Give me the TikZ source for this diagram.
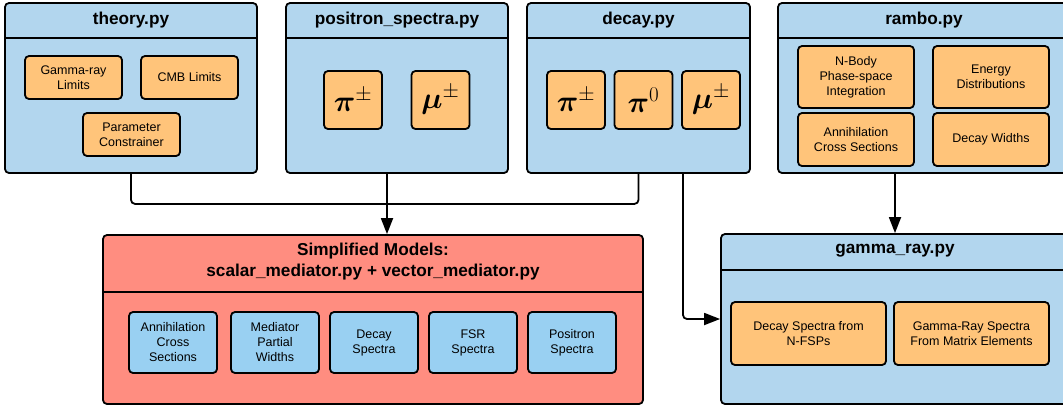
\RequirePackage{fix-cm}
\documentclass[tikz,border=0pt]{standalone}
\usepackage{amsmath}
\usepackage{fontspec}
\setmainfont{Liberation Sans}
\usetikzlibrary{arrows.meta}
\definecolor{outerblue}{RGB}{178,214,238}
\definecolor{innerorange}{RGB}{255,196,122}
\definecolor{modelred}{RGB}{255,141,128}
\definecolor{innerblue}{RGB}{153,208,242}
\tikzset{
  outerbox/.style={draw=black, line width=1.8pt, rounded corners=4pt, fill=outerblue, inner sep=0pt},
  redbox/.style={outerbox, fill=modelred},
  sub/.style={draw=black, line width=1.8pt, rounded corners=4pt, fill=innerorange, inner sep=0pt, align=center,
     font=\fontsize{12.5}{15}\selectfont},
  subblue/.style={sub, fill=innerblue},
  mathsub/.style={sub, font=\fontsize{30}{30}\selectfont, minimum width=58pt, minimum height=58pt},
  title/.style={font=\fontsize{17.2}{21}\selectfont\bfseries, align=center, inner sep=0pt},
  divider/.style={draw=black, line width=1.8pt},
  conn/.style={draw=black, line width=1.8pt, rounded corners=4pt},
  arr/.style={conn, -{Triangle[length=16pt, width=12pt]}}
}
\begin{document}
\begin{tikzpicture}[x=1pt, y=-1pt]
\useasboundingbox (0,0) rectangle (1063,408);

% theory.py
\node[outerbox, minimum width=252pt, minimum height=170pt] (theory) at (131,88) {};
\draw[divider] (theory.west |- 0,38) -- (theory.east |- 0,38);
\node[title] (theoryT) at (131,20) {theory.py};
\node[sub, minimum width=97pt, minimum height=43pt] (gl) at (73.5,77.5) {Gamma-ray\\Limits};
\node[sub, minimum width=97pt, minimum height=43pt] (cmb) at (189.5,77.5) {CMB Limits};
\node[sub, minimum width=97pt, minimum height=43pt] (pc) at (131.5,134.5) {Parameter\\Constrainer};

% positron_spectra.py
\node[outerbox, minimum width=222pt, minimum height=170pt] (positron) at (397,88) {};
\draw[divider] (positron.west |- 0,38) -- (positron.east |- 0,38);
\node[title] (positronT) at (397,20) {positron\_spectra.py};
\node[mathsub] (ppi) at (353,100) {$\boldsymbol{\pi}^{\pm}$};
\node[mathsub] (pmu) at (440.5,100) {$\boldsymbol{\mu}^{\pm}$};

% decay.py
\node[outerbox, minimum width=223pt, minimum height=170pt] (decay) at (638.5,88) {};
\draw[divider] (decay.west |- 0,38) -- (decay.east |- 0,38);
\node[title] (decayT) at (638.5,20) {decay.py};
\node[mathsub] (dpi) at (576,100) {$\boldsymbol{\pi}^{\pm}$};
\node[mathsub] (dpiz) at (643.5,100) {$\boldsymbol{\pi}^{0}$};
\node[mathsub] (dmu) at (711,100) {$\boldsymbol{\mu}^{\pm}$};

% rambo.py
\node[outerbox, minimum width=292pt, minimum height=170pt] (rambo) at (924,88) {};
\draw[divider] (rambo.west |- 0,38) -- (rambo.east |- 0,38);
\node[title] (ramboT) at (924,20) {rambo.py};
\node[sub, minimum width=116pt, minimum height=62pt] (nbody) at (856,77) {N-Body\\Phase-space\\Integration};
\node[sub, minimum width=116pt, minimum height=62pt] (energy) at (991,77) {Energy\\Distributions};
\node[sub, minimum width=116pt, minimum height=53pt] (anncs) at (856,139.5) {Annihilation\\Cross Sections};
\node[sub, minimum width=116pt, minimum height=53pt] (dw) at (991,139.5) {Decay Widths};

% Simplified models
\node[redbox, minimum width=540pt, minimum height=169pt] (models) at (373,319.5) {};
\draw[divider] (models.west |- 0,292) -- (models.east |- 0,292);
\node[title] (modelsT) at (373,262) {Simplified Models:\\scalar\_mediator.py + vector\_mediator.py};
\node[subblue, minimum width=88pt, minimum height=61pt] (m1) at (173,342.5) {Annihilation\\Cross\\Sections};
\node[subblue, minimum width=88pt, minimum height=61pt] (m2) at (275,342.5) {Mediator\\Partial\\Widths};
\node[subblue, minimum width=88pt, minimum height=61pt] (m3) at (374,342.5) {Decay\\Spectra};
\node[subblue, minimum width=88pt, minimum height=61pt] (m4) at (473,342.5) {FSR\\Spectra};
\node[subblue, minimum width=88pt, minimum height=61pt] (m5) at (572,342.5) {Positron\\Spectra};

% gamma_ray.py
\node[outerbox, minimum width=348pt, minimum height=170pt] (gamma) at (895,319) {};
\draw[divider] (gamma.west |- 0,270) -- (gamma.east |- 0,270);
\node[title] (gammaT) at (895,251) {gamma\_ray.py};
\node[sub, minimum width=155pt, minimum height=63pt] (g1) at (808.5,333.5) {Decay Spectra from\\N-FSPs};
\node[sub, minimum width=155pt, minimum height=63pt] (g2) at (971.5,333.5) {Gamma-Ray Spectra\\From Matrix Elements};

% connectors
\draw[conn] (theory.south) -- ++(0,30) -| (decay.south);
\draw[arr] ([xshift=-10pt]positron.south) -- ([xshift=-10pt]positron.south |- models.north);
\draw[arr] (gamma.north |- rambo.south) -- (gamma.north);
\draw[arr] ([xshift=44.5pt]decay.south) |- (gamma.west);
\end{tikzpicture}
\end{document}
